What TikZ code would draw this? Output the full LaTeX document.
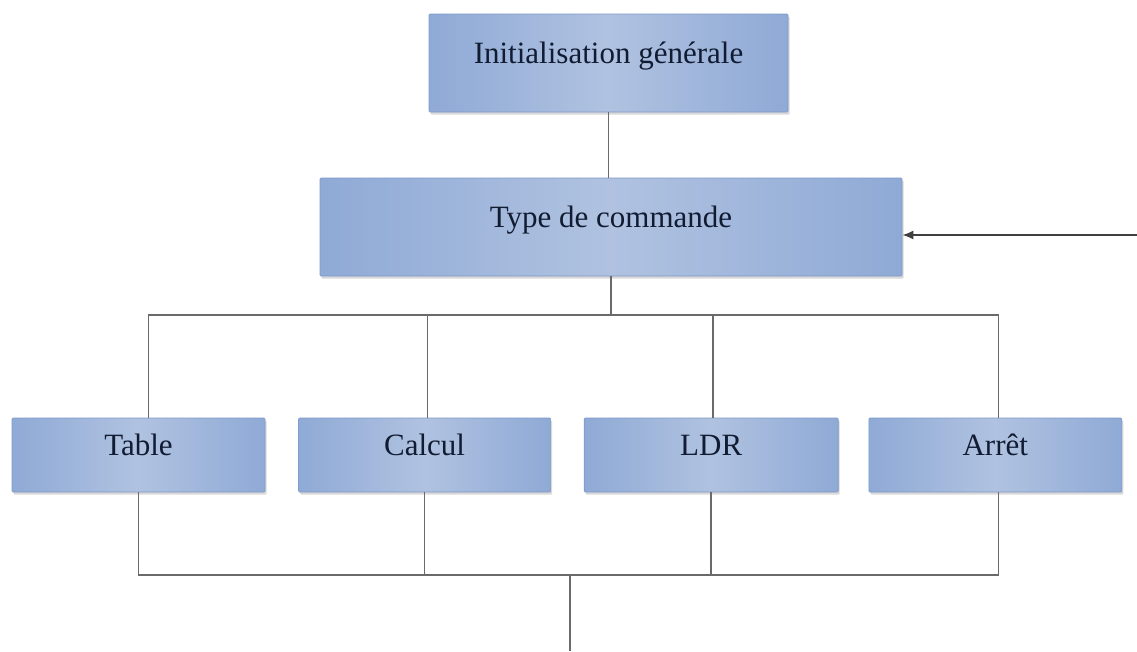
\documentclass[tikz,border=0pt]{standalone}
\usepackage{fontspec}
\setmainfont{Liberation Serif}
\usetikzlibrary{positioning,shadows,arrows.meta}

\definecolor{boxedge}{HTML}{8FAAD6}
\definecolor{boxmid}{HTML}{B0C2E0}
\definecolor{boxline}{HTML}{7E99C7}
\definecolor{linegray}{HTML}{6A6A6A}
\definecolor{txtblue}{HTML}{111C33}

\tikzset{
	bloc/.style={draw=boxline, line width=0.6pt, left color=boxedge, right color=boxedge,
		middle color=boxmid, text=txtblue, font=\fontsize{31}{37}\selectfont,
		text height=21pt, text depth=21pt, inner sep=0pt, rounded corners=1pt,
		drop shadow={shadow xshift=1.5pt, shadow yshift=-2.5pt, opacity=0.3}},
	lien/.style={draw=linegray, line width=1.6pt},
	fleche/.style={lien, draw=black!75, -{Latex[length=11pt,width=9pt]}}
}

\begin{document}
\begin{tikzpicture}[x=1pt, y=-1pt]
	\useasboundingbox (0,0) rectangle (1137,651);
	
	\node [bloc, minimum width=359pt, minimum height=98pt] (init) at (608.5,63) {Initialisation générale};
	\node [bloc, minimum width=582pt, minimum height=98pt] (type) at (611,227) {Type de commande};
	\node [bloc, minimum width=253pt, minimum height=74pt] (table) at (138.5,455) {Table};
	\node [bloc, minimum width=252pt, minimum height=74pt, right=33pt of table] (calcul) {Calcul};
	\node [bloc, minimum width=254pt, minimum height=74pt, right=33pt of calcul] (ldr) {LDR};
	\node [bloc, minimum width=253pt, minimum height=74pt, right=30pt of ldr] (arret) {Arrêt};
	
	\coordinate (hub) at (0,315);
	\coordinate (bus) at (0,575);
	\coordinate (sortie) at (570,651);
	\coordinate (retour) at (1137,235);
	
	% liaisons du haut
	\draw [lien] (init.south) -- (init.south |- type.north);
	\draw [lien] (type.south) -- (type.south |- hub);
	\draw [lien] ([xshift=10pt]table.north) |- ([xshift=3pt]arret.north |- hub) -- ([xshift=3pt]arret.north);
	\draw [lien] ([xshift=3pt]calcul.north) -- ([xshift=3pt]calcul.north |- hub);
	\draw [lien] ([xshift=2pt]ldr.north) -- ([xshift=2pt]ldr.north |- hub);
	
	% liaisons du bas
	\draw [lien] (table.south) |- ([xshift=3pt]arret.south |- bus) -- ([xshift=3pt]arret.south);
	\draw [lien] (calcul.south) -- (calcul.south |- bus);
	\draw [lien] (ldr.south) -- (ldr.south |- bus);
	\draw [lien] (sortie |- bus) -- (sortie);
	
	% retour
	\draw [fleche] (retour) -- (retour -| type.east);
\end{tikzpicture}
\end{document}
